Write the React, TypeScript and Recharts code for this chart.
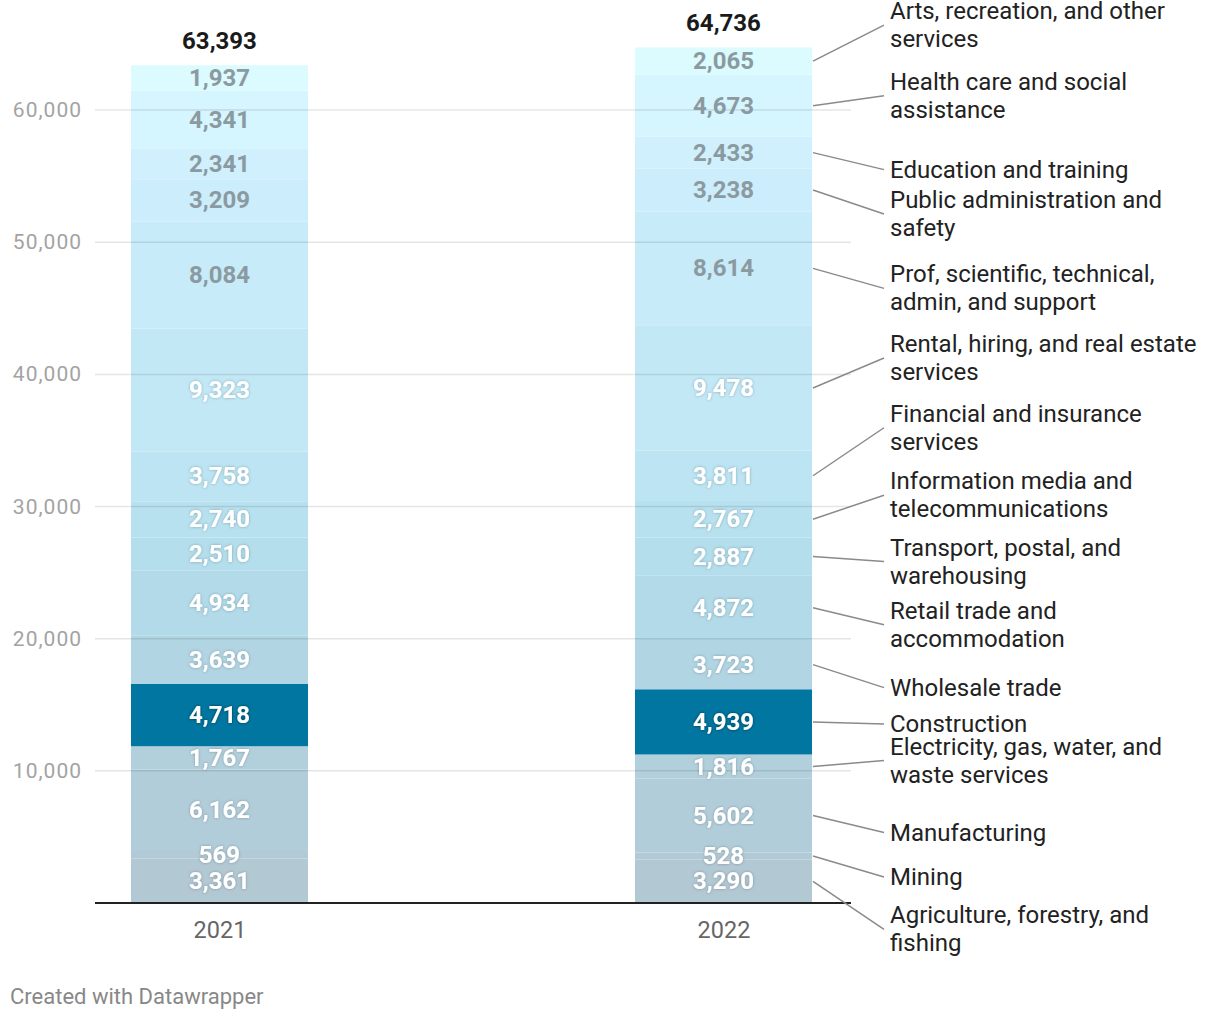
import React from 'react';
import { BarChart, Bar, XAxis, YAxis, ReferenceLine, LabelList } from 'recharts';

// ---------- data ----------
const years = ['2021', '2022'];

const industries = [
  'Agriculture, forestry, and\nfishing',
  'Mining',
  'Manufacturing',
  'Electricity, gas, water, and\nwaste services',
  'Construction',
  'Wholesale trade',
  'Retail trade and\naccommodation',
  'Transport, postal, and\nwarehousing',
  'Information media and\ntelecommunications',
  'Financial and insurance\nservices',
  'Rental, hiring, and real estate\nservices',
  'Prof, scientific, technical,\nadmin, and support',
  'Public administration and\nsafety',
  'Education and training',
  'Health care and social\nassistance',
  'Arts, recreation, and other\nservices',
];

const values2021 = [3361, 569, 6162, 1767, 4718, 3639, 4934, 2510, 2740, 3758, 9323, 8084, 3209, 2341, 4341, 1937];
const values2022 = [3290, 528, 5602, 1816, 4939, 3723, 4872, 2887, 2767, 3811, 9478, 8614, 3238, 2433, 4673, 2065];

const yTicks = [10000, 20000, 30000, 40000, 50000, 60000];

// ---------- style / layout ----------
const colors = [
  '#b2c8d3', '#b2cad5', '#b2cdda', '#b2d0dc', '#0176a0', '#b2d5e3', '#b2dae8', '#b4deec',
  '#b8e1ef', '#bce4f2', '#c2e8f6', '#c7ebf8', '#ccedfb', '#d0f0fd', '#d5f5ff', '#dbfbff',
];
// vertical nudge (px) of each right-hand annotation from its segment centre
const labelNudge = [48, 21, 17, -6, 2, 23, 17, 5, -24, -48, -30, 20, 24, 17, -10, -36];

const FONT = 'Roboto, "Noto Sans", sans-serif';
const valuesByYear = [values2021, values2022];
const totals = valuesByYear.map((arr) => arr.reduce((a, b) => a + b, 0));

const data = years.map((y, i) => {
  const row: Record<string, number | string> = { x: i, year: y };
  valuesByYear[i].forEach((v, s) => {
    row['s' + s] = v;
  });
  return row;
});

const fmt = (v: number) => v.toLocaleString('en-US');

const makeValueLabel = (s: number) => (props: any) => {
  const x = Number(props.x);
  const y = Number(props.y);
  const w = Number(props.width);
  const h = Number(props.height);
  const index = props.index as number;
  const v = valuesByYear[index][s];
  const cx = x + w / 2;
  const cy = y + h / 2;
  const gray = s >= 11;
  const parts: React.ReactNode[] = [];
  parts.push(
    <text
      key="v"
      x={cx}
      y={cy}
      textAnchor="middle"
      dominantBaseline="central"
      fontFamily={FONT}
      fontWeight={700}
      fontSize={24}
      fill={gray ? '#8b9aa1' : '#ffffff'}
      filter={gray ? undefined : s === 4 ? 'url(#haloStrong)' : 'url(#halo)'}
    >
      {fmt(v)}
    </text>
  );
  if (index === years.length - 1) {
    const lines = industries[s].split('\n');
    const ly = cy + labelNudge[s];
    parts.push(
      <line key="l" x1={x + w + 1} y1={cy} x2={884} y2={ly} stroke="#8a8a8a" strokeWidth={1.5} />
    );
    lines.forEach((t, li) => {
      parts.push(
        <text
          key={'t' + li}
          x={890}
          y={ly + (li - (lines.length - 1) / 2) * 28}
          dominantBaseline="central"
          fontFamily={FONT}
          fontSize={24}
          fill="#222222"
        >
          {t}
        </text>
      );
    });
  }
  return <g>{parts}</g>;
};

const renderTotal = (props: any) => {
  const x = Number(props.x);
  const y = Number(props.y);
  const w = Number(props.width);
  const index = props.index as number;
  return (
    <text
      x={x + w / 2}
      y={y - 24}
      textAnchor="middle"
      dominantBaseline="central"
      fontFamily={FONT}
      fontWeight={700}
      fontSize={24}
      fill="#1a1a1a"
    >
      {fmt(totals[index])}
    </text>
  );
};

const YTick = (props: any) => (
  <text
    x={82}
    y={props.y}
    textAnchor="end"
    dominantBaseline="central"
    fontFamily={FONT}
    fontSize={21}
    letterSpacing={1}
    fill="#a3a3a3"
  >
    {fmt(props.payload.value)}
  </text>
);

const XTick = (props: any) => (
  <text
    x={props.x}
    y={930}
    textAnchor="middle"
    dominantBaseline="central"
    fontFamily={FONT}
    fontSize={23.5}
    fill="#666666"
  >
    {years[props.payload.value]}
  </text>
);

export default function App() {
  return (
    <div style={{ position: 'absolute', left: 0, top: 0, width: 1220, height: 1020, background: '#fff' }}>
      <BarChart
        width={1220}
        height={1020}
        data={data}
        margin={{ top: 44, right: 369, bottom: 0, left: 0 }}
        barSize={177}
      >
        <defs>
          <filter id="halo" x="-30%" y="-50%" width="160%" height="200%">
            <feGaussianBlur in="SourceAlpha" stdDeviation="1.6" result="b" />
            <feFlood floodColor="#000" floodOpacity="0.28" />
            <feComposite in2="b" operator="in" result="s" />
            <feMerge>
              <feMergeNode in="s" />
              <feMergeNode in="SourceGraphic" />
            </feMerge>
          </filter>
          <filter id="haloStrong" x="-30%" y="-50%" width="160%" height="200%">
            <feGaussianBlur in="SourceAlpha" stdDeviation="1.6" result="b" />
            <feFlood floodColor="#000" floodOpacity="0.55" />
            <feComposite in2="b" operator="in" result="s" />
            <feMerge>
              <feMergeNode in="s" />
              <feMergeNode in="SourceGraphic" />
            </feMerge>
          </filter>
        </defs>
        <XAxis
          dataKey="x"
          type="number"
          domain={[-0.248, 1.252]}
          ticks={[0, 1]}
          height={117}
          axisLine={{ stroke: '#222', strokeWidth: 2 }}
          tickLine={false}
          tick={<XTick />}
          allowDataOverflow
        />
        <YAxis
          type="number"
          domain={[0, 65000]}
          ticks={yTicks}
          width={95}
          axisLine={false}
          tickLine={false}
          tick={<YTick />}
        />
        {industries.map((_, s) => (
          <Bar key={s} dataKey={'s' + s} stackId="a" fill={colors[s]} isAnimationActive={false}>
            <LabelList content={makeValueLabel(s)} />
            {s === industries.length - 1 ? <LabelList content={renderTotal} /> : null}
          </Bar>
        ))}
        {yTicks.map((t) => (
          <ReferenceLine key={t} y={t} stroke="#000" strokeOpacity={0.1} strokeWidth={1.5} />
        ))}
      </BarChart>
      <div
        style={{
          position: 'absolute',
          left: 10,
          top: 984,
          fontFamily: FONT,
          fontSize: 22,
          lineHeight: '26px',
          color: '#888',
        }}
      >
        Created with Datawrapper
      </div>
    </div>
  );
}
